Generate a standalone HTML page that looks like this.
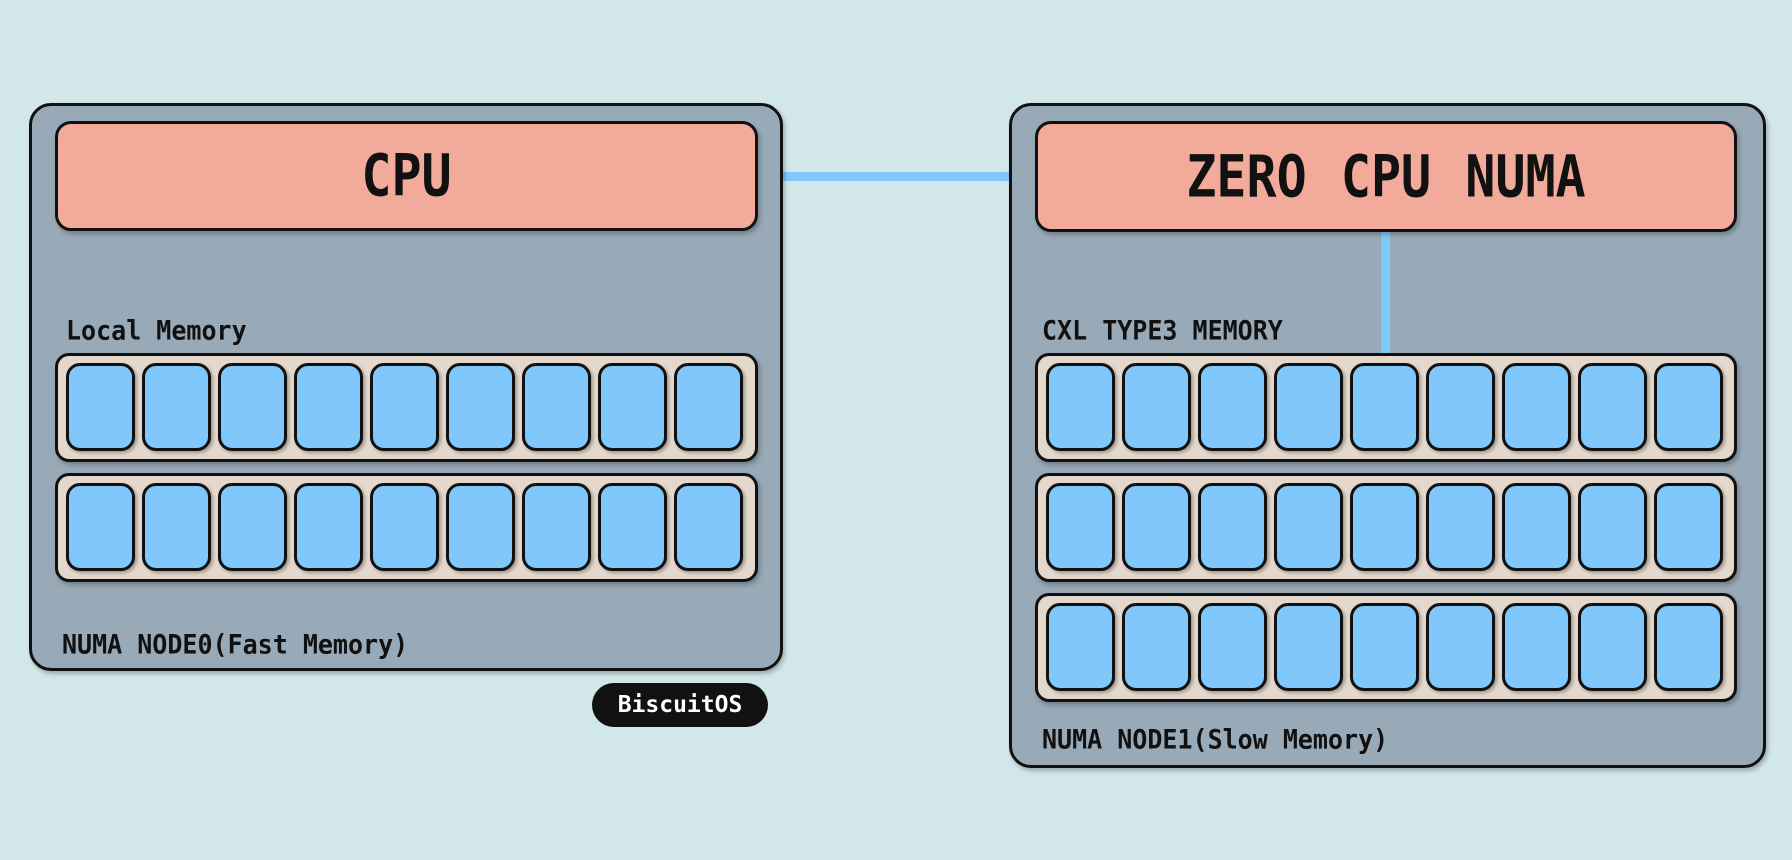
<!DOCTYPE html>
<html><head><meta charset="utf-8"><style>
body{margin:0;width:1792px;height:860px;background:#d2e7e9;position:relative;overflow:hidden;font-family:"DejaVu Sans Mono","Liberation Mono",monospace;font-weight:bold;color:#111}
.a{position:absolute;box-sizing:border-box}
.box{background:#98a9b7;border:3.5px solid #111;border-radius:22px;box-shadow:2px 3px 4px rgba(0,0,0,.25)}
.cpu{background:#f2ab9b;border:3.5px solid #111;border-radius:16px;box-shadow:2px 3px 4px rgba(0,0,0,.25);display:flex;align-items:center;justify-content:center;font-size:50px}
.cpu span{display:inline-block;transform:scaleY(1.15)}
.row{background:#e3d8cb;border:3.5px solid #111;border-radius:14px;box-shadow:2px 3px 4px rgba(0,0,0,.25)}
.chip{position:absolute;top:7px;width:69px;height:88px;background:#80c8fb;border:3.5px solid #111;border-radius:14px;box-sizing:border-box;box-shadow:2px 2px 3px rgba(0,0,0,.3)}
.lbl{font-size:25px;line-height:1;transform:scaleY(1.08);transform-origin:left top}
.line{background:#80c8fb}
</style></head><body>
<div class="a line" style="left:755px;top:172px;width:285px;height:9px"></div>
<div class="a box" style="left:29px;top:103px;width:754px;height:568px"></div>
<div class="a box" style="left:1009px;top:103px;width:757px;height:665px"></div>
<div class="a line" style="left:1381px;top:228px;width:9px;height:128px"></div>
<div class="a cpu" style="left:55px;top:121px;width:703px;height:110px"><span>CPU</span></div>
<div class="a cpu" style="left:1035px;top:121px;width:702px;height:111px;word-spacing:4px"><span>ZERO CPU NUMA</span></div>
<div class="a lbl" style="left:66px;top:317px">Local Memory</div>
<div class="a lbl" style="left:1042px;top:317px">CXL TYPE3 MEMORY</div>
<div class="a lbl" style="left:62px;top:631px">NUMA NODE0(Fast Memory)</div>
<div class="a lbl" style="left:1042px;top:726px">NUMA NODE1(Slow Memory)</div>
<div class="a" style="left:592px;top:683px;width:176px;height:44px;background:#111;border-radius:22px;color:#fff;font-size:23px;display:flex;align-items:center;justify-content:center">BiscuitOS</div>
<div id="rows"></div>
<script>
var rows=[[55,353,703],[55,473,703],[1035,353,702],[1035,473,702],[1035,593,702]];
var h='';
rows.forEach(function(r){
 h+='<div class="a row" style="left:'+r[0]+'px;top:'+r[1]+'px;width:'+r[2]+'px;height:109px">';
 for(var i=0;i<9;i++){h+='<div class="chip" style="left:'+(8+i*76)+'px"></div>';}
 h+='</div>';
});
document.getElementById('rows').innerHTML=h;
</script>
</body></html>
